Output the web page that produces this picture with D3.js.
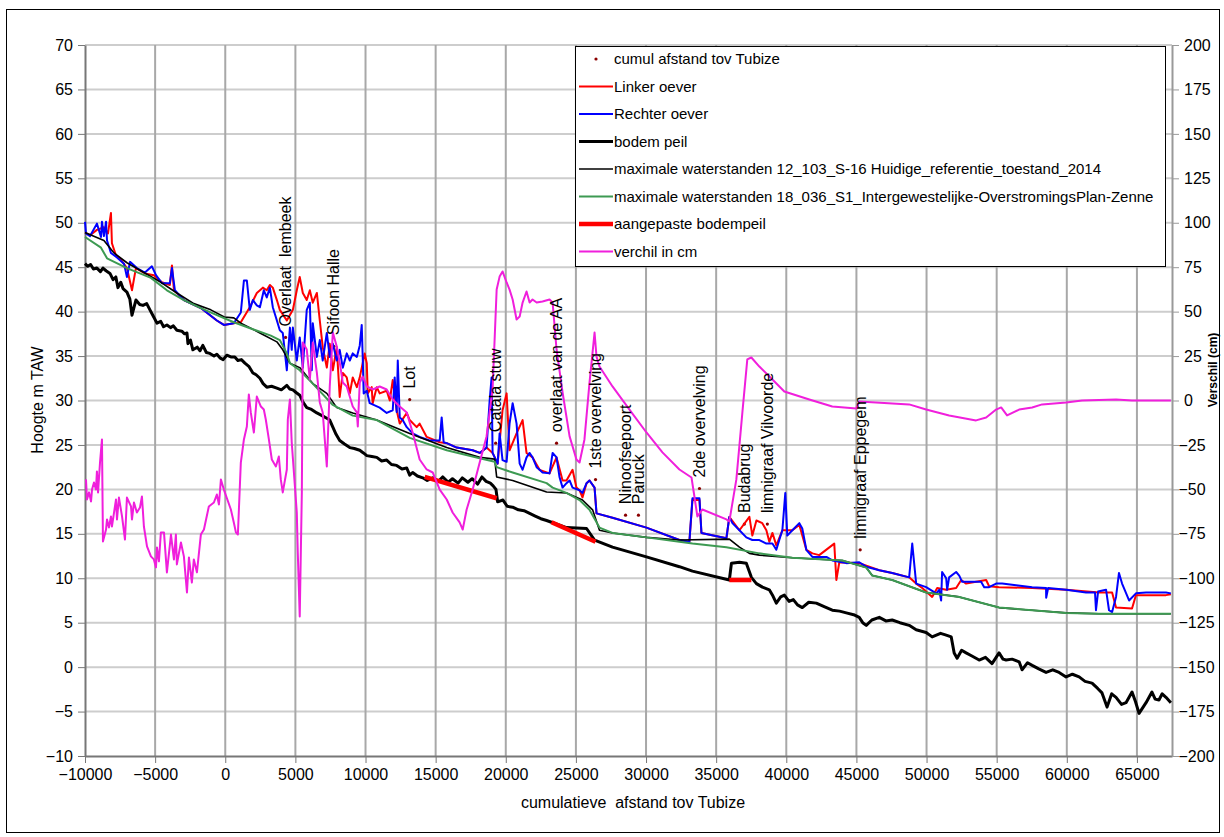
<!DOCTYPE html>
<html>
<head>
<meta charset="utf-8">
<script src="https://cdn.jsdelivr.net/npm/d3@7"></script>
<style>
  body { margin: 0; background: #fff; }
  svg { display: block; }
  text { font-family: "Liberation Sans", Arial, sans-serif; fill: #000; }
</style>
</head>
<body>
<svg id="chart" width="1224" height="837"></svg>
<script>
// ---- data ----
const xTicks = [-10000, -5000, 0, 5000, 10000, 15000, 20000, 25000, 30000, 35000, 40000, 45000, 50000, 55000, 60000, 65000];
const yTicks = [-10, -5, 0, 5, 10, 15, 20, 25, 30, 35, 40, 45, 50, 55, 60, 65, 70];
const y2Ticks = [-200, -175, -150, -125, -100, -75, -50, -25, 0, 25, 50, 75, 100, 125, 150, 175, 200];

const cumulX = [4300, 7740, 13150, 19280, 23620, 26400, 28540, 29460, 33810, 37010, 38650, 45270];
const cumulY = [37.1, 36.1, 30.1, 25.2, 25.2, 21.1, 17.1, 17.1, 20.1, 16.1, 16.1, 13.2];
const cumulLabels = ['Overlaat  lembeek', 'Sifoon Halle', 'Lot', 'Catala stuw', 'overlaat van de AA',
  '1ste overvelving', 'Ninoofsepoort', 'Paruck', '2de overvelving', 'Budabrug',
  'limnigraaf Vilvoorde', 'limnigraaf Eppegem'];

const linkerOever = [[-10000,48.9],[-9640,48.6],[-9150,49.2],[-8650,49.5],[-8360,48.8],[-8150,51.1],[-8080,47.7],[-7790,46.3],[-7510,46.0],[-7010,44.9],[-6650,42.4],[-6370,44.9],[-5730,44.3],[-5090,44.1],[-4520,43.3],[-3950,43.0],[-3800,45.2],[-3660,42.4],[-2950,41.3],[-1740,40.4],[-600,39.0],[-100,38.5],[610,38.7],[1110,38.8],[1750,40.5],[2250,42.1],[2680,42.7],[2960,42.4],[3180,43.0],[3390,42.7],[3680,41.3],[3890,40.2],[4390,39.0],[4820,40.2],[5100,42.4],[5310,43.9],[5530,42.1],[5810,41.3],[6030,42.4],[6240,41.0],[6530,42.1],[6740,39.0],[6950,36.0],[7240,33.7],[7450,36.4],[7670,33.4],[7950,36.0],[8160,30.4],[8380,33.1],[8660,32.6],[8880,30.8],[9090,32.6],[9380,31.5],[9590,32.6],[9940,35.3],[10090,34.2],[10160,30.8],[10440,31.5],[10510,29.7],[10800,31.5],[11010,30.8],[11510,31.1],[11730,30.0],[11940,32.3],[12220,28.9],[12440,27.4],[12940,28.6],[13150,27.8],[13650,27.0],[13860,27.4],[14360,25.9],[15290,25.3],[15790,25.2],[16500,24.7],[17640,24.4],[18140,24.1],[18630,24.7],[19060,24.1],[19420,22.9],[19770,28.9],[20060,30.8],[20270,24.4],[20770,26.3],[21200,27.8],[21480,24.1],[21910,23.6],[22410,22.2],[23120,21.8],[23620,23.6],[24050,21.0],[24330,21.0],[24760,22.2],[25040,20.2],[25260,19.9],[25470,19.1],[25760,20.7],[25970,21.0],[26330,20.2],[26470,17.3],[27610,16.8],[30030,15.7],[32380,14.3],[33090,14.1],[33310,18.8],[33810,18.8],[33950,15.1],[35730,14.5],[35940,16.9],[36660,15.4],[37370,16.9],[37580,14.8],[37870,16.5],[38290,16.2],[38580,15.4],[38790,14.1],[39010,15.1],[39290,13.7],[39720,15.4],[40430,15.4],[40930,16.0],[41430,13.2],[41860,12.8],[42350,12.6],[43420,13.9],[43570,9.8],[43780,11.8],[45200,11.7],[46630,10.9],[47550,10.6],[48760,10.1],[49260,9.4],[49690,8.9],[50400,7.9],[50760,8.9],[51400,8.7],[52110,8.9],[52470,9.8],[52820,9.4],[54250,9.8],[54460,9.1],[55170,9.0],[57530,8.9],[59950,8.7],[62300,8.4],[63230,8.4],[63510,6.7],[64650,6.6],[64930,8.1],[65650,8.1],[67070,8.1],[67420,8.2]];

const rechterOever = [[-10000,50.1],[-9930,48.8],[-9640,48.5],[-9150,49.9],[-8860,48.4],[-8790,50.1],[-8650,48.5],[-8500,50.1],[-8430,48.0],[-8150,46.6],[-7720,46.1],[-7220,45.4],[-7010,43.9],[-6790,45.6],[-6300,44.9],[-5730,44.4],[-5230,45.1],[-4940,44.1],[-4520,43.2],[-3950,43.2],[-3800,44.9],[-3590,42.4],[-2950,41.3],[-1740,40.4],[-600,39.0],[-100,38.5],[610,38.7],[1110,39.9],[1330,43.5],[1540,43.5],[1750,40.2],[1970,41.3],[2250,40.7],[2470,40.5],[2750,42.4],[2960,41.6],[3180,42.7],[3390,40.5],[3680,39.0],[3890,37.9],[4100,37.6],[4390,33.4],[4610,38.2],[4740,35.7],[4820,38.2],[5100,34.5],[5310,37.1],[5530,33.7],[5810,40.2],[6030,41.0],[6170,33.4],[6240,38.7],[6530,34.9],[6740,36.8],[6950,34.5],[7240,37.6],[7450,34.9],[7670,36.4],[7950,34.5],[8160,35.7],[8380,33.7],[8660,35.3],[8880,34.5],[9090,35.3],[9380,34.9],[9590,36.2],[9730,38.5],[9800,34.9],[9870,30.8],[10090,31.1],[10300,29.7],[11010,29.2],[11510,28.6],[11940,28.9],[12080,32.6],[12220,28.7],[12300,34.5],[12440,28.1],[12650,27.8],[12940,27.0],[13360,26.3],[13860,25.9],[14570,25.5],[15290,25.5],[15430,28.1],[15570,25.3],[15790,25.2],[16500,24.7],[17640,24.4],[18140,24.1],[18630,24.7],[18850,30.0],[18990,32.6],[19060,24.1],[19420,22.9],[19560,26.3],[19770,23.3],[20060,23.1],[20270,27.4],[20490,29.7],[20770,27.4],[20990,22.9],[21200,22.2],[21480,23.6],[21700,24.1],[21910,23.6],[22200,22.5],[22410,22.2],[22620,21.9],[23120,21.8],[23340,24.1],[23620,23.6],[23830,21.4],[24050,20.2],[24330,20.7],[24550,21.0],[24760,20.2],[25260,19.9],[25470,19.6],[25760,20.7],[25970,21.0],[26330,20.2],[26470,17.3],[27610,16.8],[30030,15.7],[32380,14.3],[33090,14.1],[33310,19.0],[33810,19.0],[33950,15.1],[35730,14.5],[35940,16.9],[36160,16.2],[36660,15.4],[37150,14.6],[37580,14.3],[38080,14.3],[38580,13.9],[39010,13.9],[39290,13.2],[39500,14.3],[39720,15.4],[39930,19.6],[40070,14.8],[40430,15.4],[40930,16.2],[41140,15.6],[41430,13.2],[41860,12.4],[42860,12.4],[43280,12.0],[44280,11.7],[45200,11.8],[45700,11.3],[46630,10.9],[47550,10.6],[48760,10.1],[48980,13.9],[49260,9.4],[49970,9.0],[50690,8.3],[50900,8.7],[51040,7.5],[51110,10.7],[51400,10.0],[51470,8.7],[51610,10.1],[52110,10.7],[52330,10.3],[52540,9.6],[53250,9.6],[53890,9.6],[54110,9.0],[54460,9.0],[54960,9.4],[55390,9.4],[56380,9.2],[57530,9.0],[58520,8.9],[58530,7.8],[58670,8.9],[59950,8.7],[61370,8.4],[62010,8.4],[62080,6.4],[62230,8.5],[62800,8.7],[63010,6.4],[63230,6.2],[63510,7.9],[63720,10.6],[63940,9.4],[64440,7.5],[64930,8.3],[65650,8.4],[67070,8.4],[67420,8.3]];

const bodemPeil = [[-10000,45.4],[-9800,45.1],[-9600,45.3],[-9400,44.8],[-9150,44.9],[-8900,44.5],[-8720,44.9],[-8500,44.6],[-8220,44.3],[-8000,43.6],[-7800,43.9],[-7650,42.7],[-7450,43.3],[-7290,42.6],[-7010,42.2],[-6800,41.4],[-6650,39.6],[-6370,41.3],[-6100,40.8],[-5870,40.7],[-5600,40.9],[-5370,40.2],[-5100,39.4],[-4870,38.7],[-4600,38.9],[-4400,38.3],[-4160,38.5],[-3900,38.2],[-3700,38.4],[-3450,37.9],[-3100,37.8],[-2900,37.5],[-2730,37.6],[-2660,36.4],[-2480,36.8],[-2310,35.7],[-2000,36.0],[-1800,35.6],[-1600,36.2],[-1350,35.4],[-1100,35.3],[-800,35.0],[-600,35.2],[-380,34.8],[-150,34.6],[110,35.1],[400,34.9],[680,34.9],[900,34.5],[1150,34.6],[1400,34.2],[1700,33.8],[1970,33.1],[2200,32.9],[2470,32.5],[2700,31.9],[2960,31.5],[3300,31.6],[3680,31.4],[4000,31.2],[4390,31.7],[4600,31.3],[4820,31.2],[5050,30.9],[5310,30.6],[5550,29.8],[5810,29.2],[6150,29.0],[6530,28.6],[6900,28.3],[7240,28.0],[7450,27.8],[7670,27.0],[7900,26.2],[8160,25.5],[8500,25.1],[8880,24.7],[9200,24.6],[9590,24.4],[9850,24.1],[10090,23.8],[10450,23.7],[10800,23.6],[11150,23.2],[11510,23.3],[11850,22.8],[12220,22.7],[12600,22.3],[12940,22.4],[13150,21.6],[13360,21.9],[13700,21.5],[14080,21.3],[14400,21.0],[14800,21.3],[15200,20.9],[15500,21.4],[15900,20.8],[16200,21.2],[16600,20.7],[16900,21.3],[17300,20.8],[17600,21.2],[18000,20.6],[18300,21.4],[18600,20.9],[18900,20.7],[19100,20.4],[19300,20.0],[19420,18.6],[19800,18.8],[20100,18.1],[20490,18.0],[20900,17.7],[21300,17.6],[21700,17.3],[22100,17.0],[22500,16.7],[22910,16.5],[23260,16.3],[24330,15.7],[25760,15.6],[26330,14.3],[27610,13.5],[30030,12.4],[32380,11.3],[33310,10.8],[35940,9.8],[36090,11.7],[36660,11.8],[37150,11.7],[37510,10.1],[37870,9.4],[38300,9.0],[38790,8.7],[39050,8.0],[39290,7.2],[39600,7.9],[39860,8.1],[40200,7.4],[40500,7.6],[40800,7.0],[41140,6.7],[41600,7.3],[42140,7.2],[42700,6.8],[43280,6.4],[43800,6.3],[44280,6.1],[44800,5.9],[45200,5.6],[45450,5.0],[45700,4.7],[46100,5.3],[46630,5.6],[47100,5.2],[47550,5.3],[48100,5.0],[48760,4.7],[49260,4.2],[49970,3.9],[50400,3.4],[51000,3.8],[51400,3.6],[51760,3.4],[51970,1.6],[52180,1.0],[52500,1.9],[52820,1.6],[53300,1.2],[53750,0.8],[54200,1.1],[54670,0.4],[55170,1.6],[55450,0.9],[55670,0.8],[56100,0.9],[56600,0.6],[56810,-0.3],[57200,0.5],[57530,0.2],[58000,-0.2],[58520,-0.6],[59000,-0.3],[59450,-0.6],[59950,-1.1],[60400,-0.8],[60880,-1.1],[61300,-1.6],[61800,-1.8],[62200,-2.4],[62510,-2.9],[62870,-4.5],[63200,-3.0],[63510,-3.4],[63900,-4.2],[64220,-4.0],[64650,-2.8],[64900,-3.9],[65150,-5.2],[65650,-4.0],[66070,-2.8],[66300,-3.6],[66570,-3.7],[66800,-3.0],[67070,-3.4],[67420,-4.0]];

const maxReferentie = [[-10000,48.9],[-8650,48.0],[-7930,46.6],[-7010,45.5],[-5800,44.4],[-4590,43.3],[-3450,42.1],[-2240,40.9],[-1030,40.2],[-70,39.4],[610,39.3],[1110,38.7],[2470,37.6],[3680,36.6],[4100,35.7],[4610,34.2],[5310,33.7],[6240,31.9],[7240,30.8],[7950,29.2],[9090,28.6],[10800,27.8],[13150,26.3],[15790,24.7],[18140,23.6],[19210,23.4],[19350,21.4],[20490,21.0],[22910,19.7],[24330,19.6],[25470,18.8],[26190,17.7],[26680,15.4],[27610,15.1],[30030,14.6],[32380,14.3],[35940,14.4],[36660,13.5],[37370,12.8],[38080,12.6],[40430,12.3],[44000,12.0],[45700,11.2],[46130,10.3],[47550,9.8],[49970,8.4],[52330,7.9],[55170,6.7],[57530,6.4],[59950,6.1],[62300,6.0],[64650,6.0],[67420,6.0]];

const maxOverstromingsPlan = [[-10000,48.4],[-8860,47.2],[-8430,46.0],[-7010,44.9],[-5300,43.8],[-4160,42.4],[-2950,41.3],[-1740,40.4],[-600,39.6],[610,38.8],[1820,38.1],[3250,37.3],[3890,36.8],[4390,35.3],[4610,34.2],[5310,33.4],[6240,31.9],[7670,29.5],[9090,28.3],[10800,27.8],[13150,25.8],[15790,24.4],[18140,23.5],[19210,23.1],[19350,22.5],[20490,21.9],[22910,20.7],[23340,20.2],[24330,19.6],[25260,18.8],[25970,17.7],[26680,15.7],[27610,15.1],[30030,14.6],[32380,14.1],[33310,13.9],[35730,13.5],[38080,12.8],[40430,12.3],[44000,12.0],[45700,11.2],[46130,10.3],[47550,9.8],[49970,8.4],[52330,7.9],[55170,6.7],[57530,6.4],[59950,6.1],[62300,6.0],[64650,6.0],[67420,6.0]];

// null = gap between the three adjusted stretches
const aangepasteBodempeil = [[14220,21.4],[19350,19.0],null,[23260,16.3],[26400,14.1],null,[35940,9.8],[37510,9.8]];

const verschilCm = [[-9930,-44.4],[-9860,-55.7],[-9710,-51.7],[-9570,-56.8],[-9500,-50.1],[-9360,-46.1],[-9220,-50.1],[-9150,-39.9],[-9070,-51.7],[-8930,-34.9],[-8790,-21.9],[-8720,-79.3],[-8500,-72.6],[-8430,-66.9],[-8290,-71.4],[-8150,-65.2],[-8080,-70.9],[-7790,-55.7],[-7720,-66.9],[-7580,-54.6],[-7360,-65.2],[-7150,-78.2],[-7010,-54.6],[-6720,-59.6],[-6650,-66.9],[-6510,-57.4],[-6300,-63.0],[-6080,-60.2],[-5940,-54.0],[-5800,-70.9],[-5580,-82.1],[-5300,-87.7],[-5090,-89.4],[-4940,-93.9],[-4870,-82.7],[-4730,-90.5],[-4590,-74.2],[-4370,-74.2],[-4160,-96.7],[-3870,-75.4],[-3660,-89.4],[-3520,-75.4],[-3450,-92.2],[-3160,-79.9],[-2950,-87.7],[-2730,-108.0],[-2590,-88.3],[-2380,-102.4],[-2240,-89.4],[-2020,-96.7],[-1740,-75.4],[-1520,-72.6],[-1170,-59.6],[-810,-57.4],[-600,-52.9],[-450,-58.5],[-310,-44.4],[-100,-50.1],[400,-61.3],[610,-68.6],[760,-74.2],[900,-75.4],[1110,-34.9],[1330,-21.9],[1540,-14.6],[1680,3.4],[1820,-6.7],[2040,-18.0],[2250,2.2],[2540,-3.4],[2750,-5.1],[2890,-10.7],[3110,-21.9],[3320,-33.2],[3610,-37.1],[3820,-31.5],[3960,-44.4],[4100,-51.7],[4390,-38.8],[4460,-10.7],[4610,0.6],[4740,-23.6],[5100,-63.0],[5170,-85.5],[5310,-121.5],[5460,-51.7],[5530,32.6],[5810,28.7],[6030,11.8],[6240,32.6],[6530,15.7],[6740,-1.1],[6950,-6.7],[7240,-37.1],[7450,7.9],[7670,38.2],[7950,30.4],[8160,21.4],[8380,10.1],[8660,7.9],[9090,-3.4],[9380,-6.7],[9450,-14.6],[9590,10.1],[9800,13.5],[10090,7.9],[10510,6.2],[11010,7.9],[11510,6.2],[11940,0.6],[12440,-3.4],[12940,-6.7],[13360,-18.0],[13860,-33.2],[14360,-38.8],[14790,-40.5],[15290,-50.1],[15790,-55.7],[16210,-63.0],[16710,-68.6],[16930,-72.6],[17210,-61.3],[17640,-50.1],[18140,-34.9],[18630,-20.2],[19060,6.2],[19350,62.4],[19560,69.7],[19770,72.6],[20060,66.4],[20270,62.4],[20490,56.8],[20770,45.6],[20990,47.2],[21200,55.1],[21480,61.3],[21700,55.1],[21910,56.8],[22200,55.1],[22620,55.7],[23120,56.8],[23340,55.1],[23620,28.7],[24050,4.5],[24550,-20.2],[25040,-33.2],[25260,-34.9],[25610,-21.9],[25970,10.1],[26330,38.2],[26470,24.7],[26680,19.1],[27610,7.9],[28820,-5.1],[30030,-18.0],[31170,-29.2],[32380,-38.8],[33240,-43.3],[33450,-54.0],[33660,-65.2],[34020,-61.3],[35730,-66.9],[35940,-68.0],[36440,-44.4],[36870,-6.7],[37220,23.1],[37510,24.2],[38080,19.1],[39010,11.8],[39860,5.1],[41640,0.6],[43280,-3.4],[44990,-4.5],[45200,-0.6],[48760,-2.2],[49970,-5.1],[51610,-8.4],[53530,-11.2],[54250,-9.6],[54960,-5.1],[55320,-3.9],[55740,-8.4],[56600,-5.1],[57530,-3.9],[58240,-2.2],[59950,-1.1],[61090,0],[63510,0.6],[64650,0],[67420,0]];

// ---- chart ----
const W = 1224, H = 837;
const plotLeft = 85, plotRight = 1172, plotTop = 45, plotBottom = 756;

const x = d3.scaleLinear().domain([-10000, 67500]).range([plotLeft, plotRight]);
const y = d3.scaleLinear().domain([-10, 70]).range([plotBottom, plotTop]);
const y2 = d3.scaleLinear().domain([-200, 200]).range([plotBottom, plotTop]);

const svg = d3.select('#chart');

// outer frame
svg.append('rect')
    .attr('x', 6.5).attr('y', 9.5).attr('width', 1213).attr('height', 823)
    .attr('fill', '#fff').attr('stroke', '#000').attr('stroke-width', 1);

// grid
const grid = svg.append('g');
grid.selectAll('line.h')
    .data(yTicks.filter(d => d > -10))
    .enter().append('line')
    .attr('x1', plotLeft).attr('x2', plotRight)
    .attr('y1', d => y(d)).attr('y2', d => y(d))
    .attr('stroke', '#cdcdcd').attr('stroke-width', 2);
grid.selectAll('line.v')
    .data(xTicks.filter(d => d > -10000))
    .enter().append('line')
    .attr('x1', d => x(d)).attr('x2', d => x(d))
    .attr('y1', plotTop).attr('y2', plotBottom)
    .attr('stroke', '#a8a8a8').attr('stroke-width', 2);

// axes
const axisFont = g => g.selectAll('text')
    .style('font-family', '"Liberation Sans", Arial, sans-serif')
    .style('font-size', '16px').attr('fill', '#000');

const xAxis = svg.append('g')
    .attr('transform', `translate(0,${plotBottom})`)
    .call(d3.axisBottom(x).tickValues(xTicks).tickFormat(d3.format('d')).tickSize(7).tickPadding(6).tickSizeOuter(0));
xAxis.call(axisFont);
xAxis.select('.domain').attr('stroke', '#777').attr('stroke-width', 2);
xAxis.selectAll('line').attr('stroke', '#777');

const yAxis = svg.append('g')
    .attr('transform', `translate(${plotLeft},0)`)
    .call(d3.axisLeft(y).tickValues(yTicks).tickSize(7).tickPadding(5).tickSizeOuter(0));
yAxis.call(axisFont);
yAxis.select('.domain').attr('stroke', '#777').attr('stroke-width', 2);
yAxis.selectAll('line').attr('stroke', '#777');

const y2Axis = svg.append('g')
    .attr('transform', `translate(${plotRight},0)`)
    .call(d3.axisRight(y2).tickValues(y2Ticks).tickSize(7).tickPadding(5).tickSizeOuter(0));
y2Axis.call(axisFont);
y2Axis.select('.domain').attr('stroke', '#999').attr('stroke-width', 2);
y2Axis.selectAll('line').attr('stroke', '#999');
// minus sign hangs to the left of the digits, as in the original
y2Axis.selectAll('text').attr('x', d => d < 0 ? 6.5 : 12);

// axis titles
svg.append('text')
    .attr('transform', 'translate(43,400) rotate(-90)')
    .attr('text-anchor', 'middle')
    .style('font-size', '16px')
    .text('Hoogte m TAW');
svg.append('text')
    .attr('x', 633).attr('y', 808)
    .attr('text-anchor', 'middle')
    .style('font-size', '16px').style('white-space', 'pre')
    .text('cumulatieve  afstand tov Tubize');
svg.append('text')
    .attr('transform', 'translate(1217,370) rotate(-90)')
    .attr('text-anchor', 'middle')
    .style('font-size', '12px').style('font-weight', 'bold')
    .text('Verschil (cm)');

// series
const line = d3.line().defined(d => d !== null).x(d => x(d[0])).y(d => y(d[1]));
const line2 = d3.line().x(d => x(d[0])).y(d => y2(d[1]));

const plot = svg.append('g');

plot.selectAll('circle.cumul')
    .data(cumulX.map((v, i) => [v, cumulY[i]]))
    .enter().append('circle')
    .attr('cx', d => x(d[0])).attr('cy', d => y(d[1]))
    .attr('r', 1.6).attr('fill', '#8b0000');

const series = [
    { data: linkerOever, color: '#ff0000', w: 2 },
    { data: rechterOever, color: '#0000ff', w: 2 },
    { data: bodemPeil, color: '#000000', w: 3 },
    { data: maxReferentie, color: '#000000', w: 1.6 },
    { data: maxOverstromingsPlan, color: '#3d9a52', w: 2 },
    { data: aangepasteBodempeil, color: '#ff0000', w: 4.5 }
];
series.forEach(s => {
    plot.append('path')
        .datum(s.data)
        .attr('d', line)
        .attr('fill', 'none')
        .attr('stroke', s.color)
        .attr('stroke-width', s.w)
        .attr('stroke-linejoin', 'round');
});

plot.append('path')
    .datum(verschilCm)
    .attr('d', line2)
    .attr('fill', 'none')
    .attr('stroke', '#f01fdc')
    .attr('stroke-width', 2)
    .attr('stroke-linejoin', 'round');

// labels of the cumul points
plot.selectAll('text.lbl')
    .data(cumulLabels)
    .enter().append('text')
    .attr('transform', (d, i) => `translate(${x(cumulX[i])},${y(cumulY[i]) - 11}) rotate(-90)`)
    .attr('dy', '0.35em')
    .attr('text-anchor', 'start')
    .style('font-size', '16px').style('white-space', 'pre')
    .text(d => d);

// legend
const legendItems = [
    { name: 'cumul afstand tov Tubize', type: 'dot', color: '#8b0000' },
    { name: 'Linker oever', color: '#ff0000', w: 2 },
    { name: 'Rechter oever', color: '#0000ff', w: 2 },
    { name: 'bodem peil', color: '#000000', w: 3 },
    { name: 'maximale waterstanden 12_103_S-16 Huidige_referentie_toestand_2014', color: '#000000', w: 1.6 },
    { name: 'maximale waterstanden 18_036_S1_Intergewestelijke-OverstromingsPlan-Zenne', color: '#3d9a52', w: 2 },
    { name: 'aangepaste bodempeil', color: '#ff0000', w: 4.5 },
    { name: 'verchil in cm', color: '#f01fdc', w: 2 }
];
const legend = svg.append('g');
legend.append('rect')
    .attr('x', 575.5).attr('y', 46.5).attr('width', 590).attr('height', 220)
    .attr('fill', '#fff').attr('stroke', '#000').attr('stroke-width', 1);
const li = legend.selectAll('g.item')
    .data(legendItems)
    .enter().append('g')
    .attr('transform', (d, i) => `translate(0,${59 + i * 27.5})`);
li.filter(d => d.type === 'dot').append('circle')
    .attr('cx', 596).attr('cy', 0).attr('r', 1.6).attr('fill', d => d.color);
li.filter(d => d.type !== 'dot').append('line')
    .attr('x1', 579).attr('x2', 613).attr('y1', 0).attr('y2', 0)
    .attr('stroke', d => d.color).attr('stroke-width', d => d.w);
li.append('text')
    .attr('x', 614).attr('y', 0).attr('dy', '0.35em')
    .style('font-size', '15px')
    .text(d => d.name);
</script>
</body>
</html>
